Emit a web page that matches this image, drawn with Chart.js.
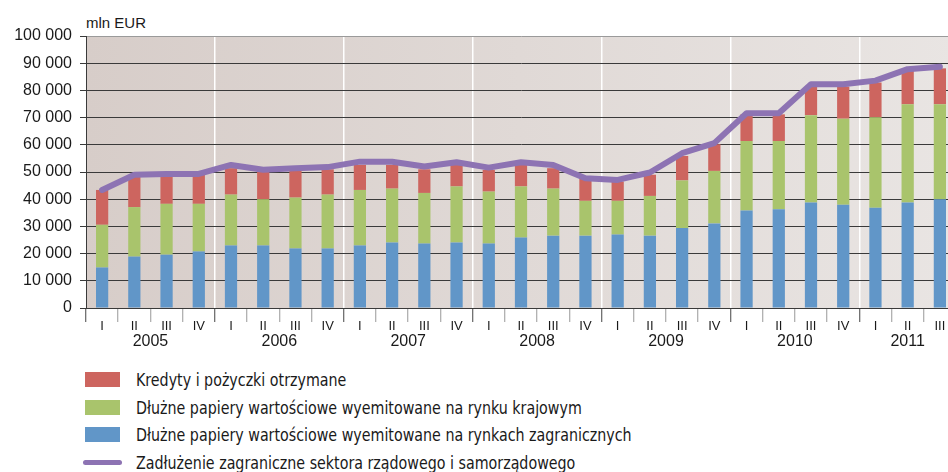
<!DOCTYPE html>
<html lang="pl">

<head>
    <meta charset="UTF-8">
    <title>Zadłużenie zagraniczne sektora rządowego i samorządowego</title>
    <script src="https://cdn.jsdelivr.net/npm/chart.js"></script>
    <style>
        body {
            margin: 0;
            width: 948px;
            height: 472px;
            overflow: hidden;
            position: relative;
            background: #fff;
            color: #1a1a1a;
            font-family: "Liberation Sans", Arial, sans-serif;
        }

        .wrap {
            position: absolute;
            left: 0;
            top: 0;
        }

        .unit {
            position: absolute;
            left: 86px;
            top: 14px;
            font-size: 15px;
        }

        .legend {
            position: absolute;
            left: 85px;
            top: 368px;
            font-family: "DejaVu Sans Condensed", "Liberation Sans Narrow", sans-serif;
            font-size: 18px;
        }

        .legend div {
            position: relative;
            height: 27.5px;
            line-height: 24px;
            padding-left: 51px;
            white-space: nowrap;
        }

        .legend div b {
            font-weight: normal;
            display: inline-block;
            transform: scaleX(0.88);
            transform-origin: 0 50%;
        }

        .legend span {
            position: absolute;
            left: 0;
            top: 4px;
            width: 35px;
            height: 15px;
        }

        .legend span.line {
            left: -2px;
            top: 9px;
            width: 39px;
            height: 5px;
            border-radius: 3px;
        }
    </style>
</head>

<body>
    <div class="unit">mln EUR</div>
    <div class="wrap"><canvas id="chart" width="960" height="354"></canvas></div>
    <div class="legend" id="legend"></div>

    <script>
        // quarters 2005 I - 2011 III
        const quarters = ['I', 'II', 'III', 'IV', 'I', 'II', 'III', 'IV', 'I', 'II', 'III', 'IV', 'I', 'II', 'III', 'IV',
            'I', 'II', 'III', 'IV', 'I', 'II', 'III', 'IV', 'I', 'II', 'III'];
        const years = ['2005', '2006', '2007', '2008', '2009', '2010', '2011'];
        const yearCenters = [1.5, 5.5, 9.5, 13.5, 17.5, 21.5, 25];

        // mln EUR
        const foreignMarkets = [14900, 18900, 19600, 20800, 23000, 23000, 21900, 21900, 23000, 24100, 23700, 24100, 23700, 25900,
            26600, 26600, 27000, 26600, 29400, 31100, 35800, 36300, 38800, 38000, 36900, 38800, 40000];
        const domesticMarket = [15700, 18200, 18700, 17500, 18700, 17000, 18700, 19800, 20400, 19800, 18600, 20600, 19100, 18800,
            17300, 12800, 12400, 14600, 17500, 19300, 25600, 25100, 32100, 31600, 33200, 36100, 34900];
        const loans = [12800, 11200, 11000, 10700, 9700, 10200, 10200, 9300, 9200, 8700, 8700, 7900, 8000, 7900,
            7500, 8100, 7100, 7800, 9000, 9800, 9800, 9800, 10500, 11800, 12800, 12400, 13200];
        const totalDebt = [43400, 49000, 49300, 49300, 52600, 50800, 51400, 51800, 53800, 53800, 52000, 53600, 51600, 53600,
            52600, 47700, 47100, 49800, 56900, 60600, 71600, 71600, 82300, 82300, 83600, 87800, 88700];

        const names = [
            'Kredyty i pożyczki otrzymane',
            'Dłużne papiery wartościowe wyemitowane na rynku krajowym',
            'Dłużne papiery wartościowe wyemitowane na rynkach zagranicznych',
            'Zadłużenie zagraniczne sektora rządowego i samorządowego'
        ];
        const colors = ['#cd655f', '#a9c46c', '#6196c8', '#8d73b3'];

        // legend
        const legend = document.getElementById('legend');
        names.forEach((n, i) => {
            const row = document.createElement('div');
            const sw = document.createElement('span');
            sw.style.background = colors[i];
            if (i === 3) sw.className = 'line';
            const txt = document.createElement('b');
            txt.textContent = n;
            row.appendChild(sw);
            row.appendChild(txt);
            legend.appendChild(row);
        });

        const fmt = v => String(v).replace(/\B(?=(\d{3})+(?!\d))/g, ' ');

        // gradient behind the plot
        const bgPlugin = {
            id: 'bg',
            beforeDraw(chart) {
                const { ctx, chartArea: a } = chart;
                const g = ctx.createLinearGradient(a.left, 0, a.right, 0);
                g.addColorStop(0, '#d7cdc9');
                g.addColorStop(1, '#e9e5e3');
                ctx.save();
                ctx.fillStyle = g;
                ctx.fillRect(a.left, a.top, a.right - a.left, a.bottom - a.top);
                ctx.restore();
            }
        };

        new Chart(document.getElementById('chart'), {
            type: 'bar',
            data: {
                labels: quarters,
                datasets: [{
                    label: names[2],
                    data: foreignMarkets,
                    backgroundColor: colors[2],
                    order: 1
                }, {
                    label: names[1],
                    data: domesticMarket,
                    backgroundColor: colors[1],
                    order: 1
                }, {
                    label: names[0],
                    data: loans,
                    backgroundColor: colors[0],
                    order: 1
                }, {
                    type: 'line',
                    label: names[3],
                    data: totalDebt,
                    borderColor: colors[3],
                    borderWidth: 6,
                    borderCapStyle: 'round',
                    borderJoinStyle: 'round',
                    pointRadius: 0,
                    tension: 0,
                    order: 0
                }]
            },
            options: {
                responsive: false,
                animation: false,
                layout: {
                    padding: { top: 36, right: 4, left: 0, bottom: 0 }
                },
                datasets: {
                    bar: { barPercentage: 0.38, categoryPercentage: 1 }
                },
                plugins: {
                    legend: { display: false },
                    tooltip: { enabled: false }
                },
                scales: {
                    x: {
                        stacked: true,
                        offset: true,
                        afterFit(s) { s.height = 24; },
                        border: { color: '#3a3a3a', width: 1 },
                        grid: {
                            offset: true,
                            lineWidth: 1.5,
                            color: c => (c.index % 4 === 0 && c.index > 0 && c.index < 27) ? '#ffffff' : 'rgba(0,0,0,0)',
                            tickColor: c => c.index % 4 === 0 ? '#444' : '#999',
                            tickWidth: 1,
                            tickLength: 14
                        },
                        ticks: {
                            color: '#1a1a1a',
                            padding: -3,
                            maxRotation: 0,
                            autoSkip: false,
                            font: { family: 'Liberation Sans', size: 13 }
                        }
                    },
                    years: {
                        type: 'linear',
                        position: 'bottom',
                        offset: false,
                        min: -0.5,
                        max: 26.5,
                        afterFit(s) { s.height = 22; },
                        afterBuildTicks(s) { s.ticks = yearCenters.map(v => ({ value: v })); },
                        border: { display: false },
                        grid: { display: false, drawTicks: false, offset: false },
                        ticks: {
                            color: '#1a1a1a',
                            padding: 0,
                            maxRotation: 0,
                            autoSkip: false,
                            callback: v => years[yearCenters.indexOf(v)],
                            font: { family: 'Liberation Sans', size: 16 }
                        }
                    },
                    y: {
                        stacked: true,
                        min: 0,
                        max: 100000,
                        afterFit(s) { s.width = 86; },
                        border: { color: '#3a3a3a', width: 1 },
                        grid: {
                            color: c => c.tick && c.tick.value === 100000 ? '#9a9a9a' : '#3a3a3a',
                            tickColor: '#3a3a3a',
                            tickLength: 6
                        },
                        ticks: {
                            stepSize: 10000,
                            color: '#1a1a1a',
                            padding: 8,
                            callback: v => fmt(v),
                            font: { family: 'Liberation Sans', size: 16 }
                        }
                    }
                }
            },
            plugins: [bgPlugin]
        });
    </script>
</body>

</html>
